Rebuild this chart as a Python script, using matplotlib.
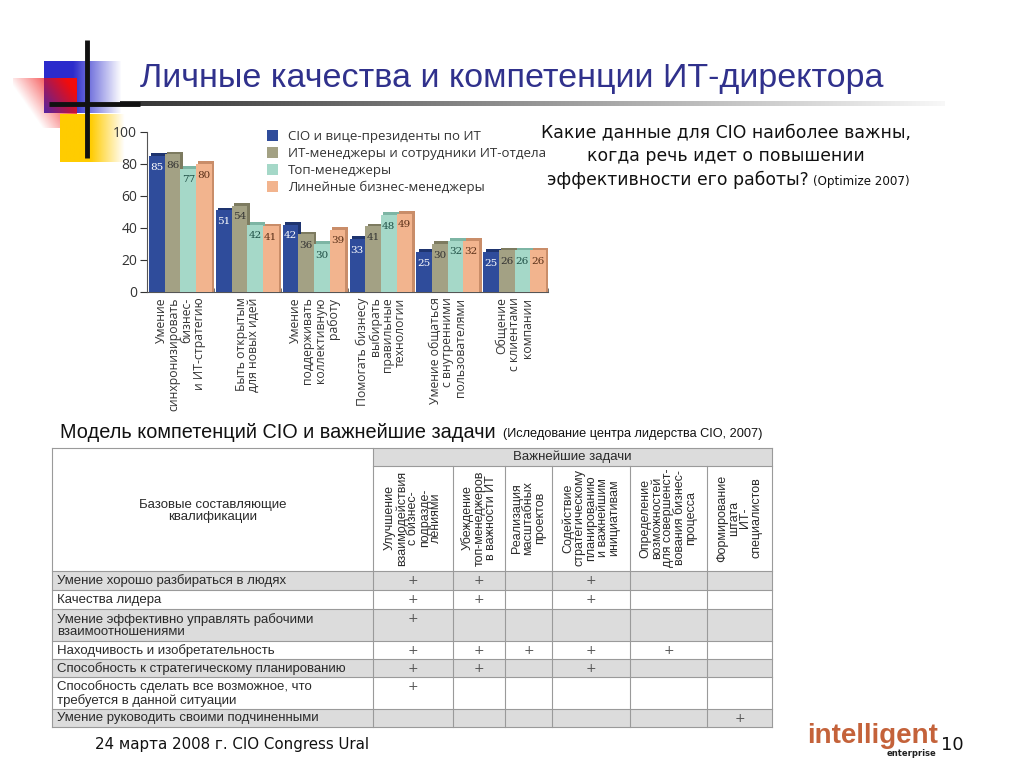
import numpy as np
import matplotlib
matplotlib.use('Agg')
import matplotlib.pyplot as plt
from matplotlib.patches import Rectangle
from matplotlib import font_manager

W, H = 1024, 768
_names = {f.name for f in font_manager.fontManager.ttflist}
NARROW = 'Liberation Sans Narrow' if 'Liberation Sans Narrow' in _names else 'Liberation Sans'
IS_NARROW = NARROW != 'Liberation Sans'

# ---- bar chart data ----
groups = ['Умение\nсинхронизировать\nбизнес-\nи ИТ-стратегию',
          'Быть открытым\nдля новых идей',
          'Умение\nподдерживать\nколлективную\nработу',
          'Помогать бизнесу\nвыбирать\nправильные\nтехнологии',
          'Умение общаться\nс внутренними\nпользователями',
          'Общение\nс клиентами\nкомпании']
series = ['CIO и вице-президенты по ИТ',
          'ИТ-менеджеры и сотрудники ИТ-отдела',
          'Топ-менеджеры',
          'Линейные бизнес-менеджеры']
cio_vp = [85, 51, 42, 33, 25, 25]
it_mgr = [86, 54, 36, 41, 30, 26]
top_mgr = [77, 42, 30, 48, 32, 26]
line_mgr = [80, 41, 39, 49, 32, 26]
yticks = [0, 20, 40, 60, 80, 100]

# ---- table data ----
table_title = 'Важнейшие задачи'
table_corner = 'Базовые составляющие\nквалификации'
tasks = ['Улучшение\nвзаимодействия\nс бизнес-\nподразде-\nлениями',
         'Убеждение\nтоп-менеджеров\nв важности ИТ',
         'Реализация\nмасштабных\nпроектов',
         'Содействие\nстратегическому\nпланированию\nи важнейшим\nинициативам',
         'Определение\nвозможностей\nдля совершенст-\nвования бизнес-\nпроцесса',
         'Формирование\nштата\nИТ-\nспециалистов']
skills = ['Умение хорошо разбираться в людях',
          'Качества лидера',
          'Умение эффективно управлять рабочими\nвзаимоотношениями',
          'Находчивость и изобретательность',
          'Способность к стратегическому планированию',
          'Способность сделать все возможное, что\nтребуется в данной ситуации',
          'Умение руководить своими подчиненными']
marks = [[1, 1, 0, 1, 0, 0],
         [1, 1, 0, 1, 0, 0],
         [1, 0, 0, 0, 0, 0],
         [1, 1, 1, 1, 1, 0],
         [1, 1, 0, 1, 0, 0],
         [1, 0, 0, 0, 0, 0],
         [0, 0, 0, 0, 0, 1]]

fig = plt.figure(figsize=(W / 100, H / 100), dpi=100)
bg = fig.add_axes([0, 0, 1, 1])
bg.axis('off')


def grad(x0, x1, y0, y1, rgb, alpha):
    img = np.zeros(alpha.shape + (4,))
    img[..., :3] = rgb
    img[..., 3] = alpha
    bg.imshow(img, extent=(x0, x1, y1, y0), aspect='auto', origin='upper', zorder=1)


# decoration top-left
u = np.linspace(0, 1, 100)
a = np.clip(1.6 - 1.6 * u, 0, 1)[None, :].repeat(10, 0)
grad(44, 122, 61, 113, (0.17, 0.17, 0.80), a)
uu, vv = np.meshgrid(np.linspace(0, 1, 80), np.linspace(0, 1, 60))
grad(13, 77, 78, 128, (0.95, 0.05, 0.05), np.clip(uu * 1.1 - vv * 0.6 + 0.1, 0, 1))
a = np.clip(1.9 - 1.9 * u, 0, 1)[None, :].repeat(10, 0)
grad(60, 125, 114, 162, (1.0, 0.80, 0.0), a)
g = np.linspace(0.2, 0.97, 200)
line_img = np.ones((4, 200, 4))
line_img[..., 0] = g
line_img[..., 1] = g
line_img[..., 2] = g
bg.imshow(line_img, extent=(120, 945, 106, 101), aspect='auto', origin='upper', zorder=1)
bg.plot([49, 140], [103.5, 103.5], color='#111111', lw=3.5, zorder=2, solid_capstyle='butt')
bg.plot([87, 87], [40, 158], color='#111111', lw=3.5, zorder=2, solid_capstyle='butt')

bg.text(140, 78, 'Личные качества и компетенции ИТ-директора', fontsize=24.5,
        color='#30318C', va='center', ha='left', family='Liberation Sans', zorder=3)

# question block
qk = dict(fontsize=12.4, color='#111111', family='DejaVu Sans', va='center')
bg.text(726, 132, 'Какие данные для CIO наиболее важны,', ha='center', **qk)
bg.text(726, 156, 'когда речь идет о повышении', ha='center', **qk)
bg.text(809, 180, 'эффективности его работы?', ha='right', **qk)
bg.text(813, 181, '(Optimize 2007)', ha='left', fontsize=8.6, color='#111111',
        family='DejaVu Sans', va='center')

# section heading
bg.text(60, 432, 'Модель компетенций CIO и важнейшие задачи', fontsize=16.9 if IS_NARROW else 14.3,
        family=NARROW, va='center', color='#111111')
bg.text(503, 434, '(Иследование центра лидерства CIO, 2007)', fontsize=11 if IS_NARROW else 9.2,
        family=NARROW, va='center', color='#111111')

# ---- table ----
col_x = [52, 373, 453, 505, 552, 630, 707, 772]
row_y = [571, 590, 609, 641, 659, 677, 709, 727]
top_y, sub_y = 448, 466
gray = '#DCDCDC'
lc = '#9A9A9A'
bg.add_patch(Rectangle((col_x[1], top_y), col_x[-1] - col_x[1], sub_y - top_y, fc=gray, ec='none', zorder=1))
for i in range(len(skills)):
    if i % 2 == 0:
        bg.add_patch(Rectangle((col_x[0], row_y[i]), col_x[-1] - col_x[0], row_y[i + 1] - row_y[i],
                               fc=gray, ec='none', zorder=1))
for y in row_y:
    bg.plot([col_x[0], col_x[-1]], [y, y], color=lc, lw=0.8, zorder=2)
bg.plot([col_x[1], col_x[-1]], [sub_y, sub_y], color=lc, lw=0.8, zorder=2)
bg.plot([col_x[0], col_x[-1]], [top_y, top_y], color=lc, lw=0.8, zorder=2)
for j, x in enumerate(col_x):
    y0 = top_y if j in (0, 1, len(col_x) - 1) else sub_y
    bg.plot([x, x], [y0, row_y[-1]], color=lc, lw=0.8, zorder=2)

tk = dict(family=NARROW, color='#2A2A2A')
bg.text((col_x[1] + col_x[-1]) / 2, 457, table_title, ha='center', va='center', fontsize=9.5, **tk)
bg.text((col_x[0] + col_x[1]) / 2, 511, table_corner, ha='center', va='center', fontsize=9.5,
        linespacing=1.1, **tk)
for j, t in enumerate(tasks):
    bg.text((col_x[j + 1] + col_x[j + 2]) / 2, 518, t, rotation=90, ha='center', va='center',
            ma='center', fontsize=9, linespacing=0.95, **tk)
for i, s in enumerate(skills):
    bg.text(57, (row_y[i] + row_y[i + 1]) / 2 + 0.5, s, ha='left', va='center', fontsize=9.5,
            linespacing=1.05, **tk)
    for j, m in enumerate(marks[i]):
        if m:
            ym = row_y[i] + 9.5
            bg.text((col_x[j + 1] + col_x[j + 2]) / 2, ym, '+', ha='center', va='center',
                    fontsize=9, color='#555555', family='DejaVu Sans')

# footer
bg.text(95, 745, '24 марта 2008 г. CIO Congress Ural', fontsize=10.8, family='DejaVu Sans',
        va='center', color='#111111')
bg.text(807, 736, 'intelligent', fontsize=20, fontweight='bold', family=NARROW, color='#C4623A',
        va='center', ha='left')
bg.text(936, 753, 'enterprise', fontsize=6, fontweight='bold', family='DejaVu Sans', color='#222222',
        va='center', ha='right')
bg.text(941, 745, '10', fontsize=13, family='DejaVu Sans', va='center', color='#111111')

bg.set_xlim(0, W)
bg.set_ylim(H, 0)

# ---- bar chart ----
ax = fig.add_axes([147 / W, 1 - 292 / H, 401 / W, 160 / H])
ax.patch.set_alpha(0)
x = np.arange(len(groups))
bw = 0.235
colors = ['#2F4C9B', '#A3A184', '#A5D8C8', '#F2B48E']
shades = ['#1E346F', '#7D7B60', '#7DB5A4', '#C98D69']
txtc = ['white', '#333333', '#1F4F45', '#5A3018']
for k, vals in enumerate([cio_vp, it_mgr, top_mgr, line_mgr]):
    pos = x + (k - 1.5) * bw
    ax.bar(pos + 0.035, np.array(vals) + 1.8, bw, color=shades[k], zorder=2, lw=0)
    ax.bar(pos, vals, bw, color=colors[k], zorder=3, lw=0, label=series[k])
    for p, v in zip(pos, vals):
        ax.text(p, v - 7, str(v), ha='center', va='center', fontsize=7.5, color=txtc[k],
                family='DejaVu Serif', zorder=4)

ax.set_xlim(-0.5, 5.5)
ax.set_ylim(0, 100)
ax.set_yticks(yticks)
ax.tick_params(axis='y', labelsize=10, colors='#333333', length=5, direction='out', width=0.8, pad=2)
for t in ax.get_yticklabels():
    t.set_family('Open Sans')
ax.set_xticks(x)
ax.set_xticklabels(groups, rotation=90, ha='center', va='top', ma='right', fontsize=8.8,
                   color='#333333', family='Open Sans', linespacing=0.95)
ax.tick_params(axis='x', length=0, pad=4)
ax.set_xticks(np.arange(0.5, 6, 1), minor=True)
ax.tick_params(axis='x', which='minor', length=3, direction='in', color='#555555')
for s in ['top', 'right']:
    ax.spines[s].set_visible(False)
for s in ['left', 'bottom']:
    ax.spines[s].set_color('#555555')
    ax.spines[s].set_linewidth(0.8)

leg = ax.legend(loc='upper left', bbox_to_anchor=(267 / W, 1 - 130 / H), bbox_transform=fig.transFigure,
                frameon=False, prop={'family': 'Open Sans', 'size': 9.5}, handlelength=0.8,
                handleheight=0.9, labelspacing=0.3, handletextpad=0.8, borderpad=0, borderaxespad=0)
for t in leg.get_texts():
    t.set_color('#333333')

fig.savefig('out.png', dpi=100)
